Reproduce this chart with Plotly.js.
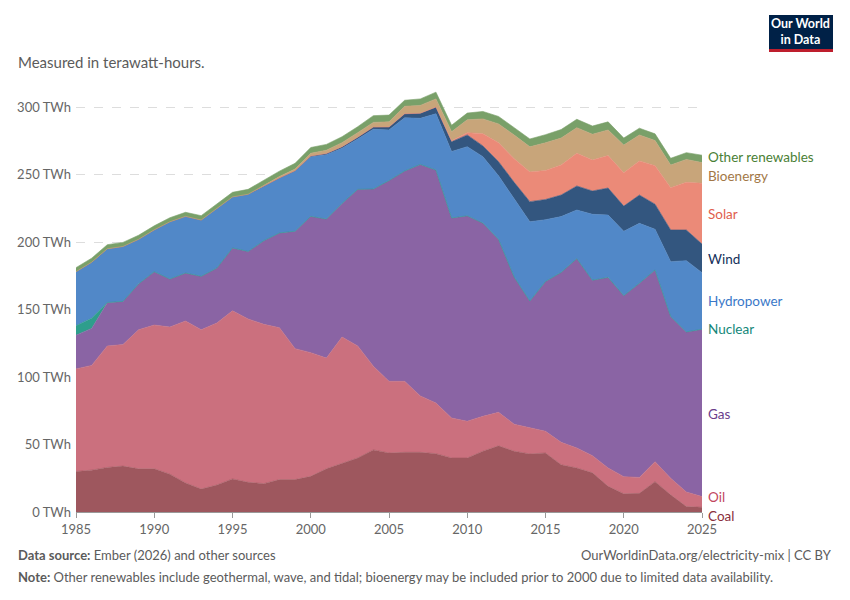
<!DOCTYPE html>
<html>
<head>
<meta charset="utf-8">
<script src="https://cdn.plot.ly/plotly-3.0.1.min.js"></script>
<style>
  html, body { margin: 0; padding: 0; background: #fff; }
  #chart { width: 850px; height: 600px; }
</style>
</head>
<body>
<div id="chart"></div>
<script>
var years = [1985, 1986, 1987, 1988, 1989, 1990, 1991, 1992, 1993, 1994,
    1995, 1996, 1997, 1998, 1999, 2000, 2001, 2002, 2003, 2004,
    2005, 2006, 2007, 2008, 2009, 2010, 2011, 2012, 2013, 2014,
    2015, 2016, 2017, 2018, 2019, 2020, 2021, 2022, 2023, 2024, 2025];

// TWh
var coal = [30, 31, 33, 34, 32, 32, 28, 21.5, 17, 20,
    24.5, 22, 21, 24, 24, 26.4, 32, 36, 40, 46,
    43.7, 44.2, 44.2, 43.2, 40, 40, 45, 49, 45, 43,
    43.7, 35, 32.6, 29, 19, 13.5, 13.8, 22.5, 12.7, 4, 3.5];
var oil = [76, 77.6, 90, 90, 103, 106.5, 109, 120, 118, 120,
    124.5, 121, 118, 112.5, 97, 91.6, 82, 93.6, 83, 62,
    53.1, 52.6, 41.8, 37.5, 29.6, 27.2, 25.9, 24.8, 20, 19.2,
    16.1, 16.6, 14.8, 12.7, 13.6, 12.7, 11.8, 14.8, 12.3, 10.8, 7.9];
var gas = [25, 27.4, 32, 32, 34, 39.5, 35.6, 35.5, 39.6, 40.7,
    46.6, 50, 62, 70.2, 87, 101, 103, 99, 116, 131.3,
    148.7, 155.8, 171.5, 172.6, 148.2, 152.2, 143.1, 128.2, 109, 94.1,
    111, 125.9, 140.3, 130, 141.2, 134.1, 143.9, 142, 119.8, 118.6, 124];
var nuclear = [7, 7.5, 0.2, 0, 0, 0, 0, 0, 0, 0,
    0, 0, 0, 0, 0, 0, 0, 0, 0, 0,
    0, 0, 0, 0, 0, 0, 0, 0, 0, 0,
    0, 0, 0, 0, 0, 0, 0, 0, 0, 0, 0];
var hydro = [40, 41.5, 39.8, 40.7, 33, 31, 42.4, 42, 41.7, 44.1,
    37.8, 42.4, 40.7, 40.8, 44.8, 44.2, 47.7, 40.8, 37.3, 44.2,
    37.5, 39.4, 34.1, 41.7, 49.2, 51.2, 49.2, 47, 58, 58.7,
    45.7, 41.3, 36, 48.8, 46.2, 47.6, 44.3, 30.1, 40.6, 52.8, 41.9];
var wind = [0, 0, 0, 0, 0, 0, 0, 0, 0, 0,
    0, 0, 0, 0, 0, 0.5, 0.8, 1.2, 1.3, 1.6,
    2.2, 3, 3.8, 4.8, 7.3, 8.7, 8, 10.5, 12.2, 14.9,
    15, 16, 17.8, 17.3, 20, 18.7, 21, 18.6, 23.5, 22.7, 21.2];
var solar = [0, 0, 0, 0, 0, 0, 0, 0, 0, 0,
    0, 0, 0, 0, 0, 0, 0, 0, 0, 0,
    0, 0, 0, 0.2, 0.7, 1.7, 9, 14, 17.5, 22,
    21.5, 22.2, 24.2, 22.9, 24, 24.7, 25.2, 28.5, 31.3, 35.3, 45];
var bio = [0, 0, 0, 0, 0, 0, 0, 0, 0, 0,
    0, 0, 0.5, 1, 1.3, 2, 2.5, 3, 3.4, 3.5,
    3.8, 5.5, 5.8, 6, 6.7, 9.5, 11, 14, 17.5, 18.6,
    20.5, 20, 19, 19.1, 19, 20.5, 19.3, 18.6, 16.8, 17, 15.3];
var other = [3, 3, 3, 3, 3, 3, 3, 3, 3.2, 3.2,
    3.4, 3.6, 3.5, 4, 4.2, 4.3, 4.3, 4.4, 4.4, 5,
    5, 4.5, 4.8, 5, 4.8, 5, 5.5, 5.5, 5.5, 5.8,
    6, 6.3, 6.2, 6.1, 6, 5.2, 5, 5, 5, 5, 5.5];

var seriesNames = ["Coal", "Oil", "Gas", "Nuclear", "Hydropower", "Wind", "Solar", "Bioenergy", "Other renewables"];
var seriesValues = [coal, oil, gas, nuclear, hydro, wind, solar, bio, other];
var fillColors = ["#9e575e", "#cb707e", "#8a64a4", "#2e9e8c", "#5188c8", "#33567f", "#eb8a78", "#c8a57a", "#79a069"];
var labelColors = ["#8a2f3b", "#c2475e", "#6a3d8c", "#13877a", "#3a78c8", "#14305a", "#e0604d", "#a27746", "#4a8035"];
// vertical pixel position of each end label
var labelPx = [516, 497, 414, 329, 301, 259, 214, 176, 157];

var yTicks = [0, 50, 100, 150, 200, 250, 300];
var yTickText = ["0 TWh", "50 TWh", "100 TWh", "150 TWh", "200 TWh", "250 TWh", "300 TWh"];
var xTicks = [1985, 1990, 1995, 2000, 2005, 2010, 2015, 2020, 2025];

// plot area in pixels
var L = 76, R = 702, T = 80, B = 512;
function px(x) { return (x - L) / (R - L); }
function py(y) { return (B - y) / (B - T); }

var traces = [];
for (var i = 0; i < seriesNames.length; i++) {
    traces.push({
        x: years,
        y: seriesValues[i],
        name: seriesNames[i],
        type: 'scatter',
        mode: 'lines',
        stackgroup: 'one',
        fillcolor: fillColors[i],
        line: { width: 0.6, color: fillColors[i] },
        hoverinfo: 'skip'
    });
}

var annotations = [];
for (var j = 0; j < seriesNames.length; j++) {
    annotations.push({
        x: px(706), xref: 'paper', xanchor: 'left',
        y: py(labelPx[j]), yref: 'paper', yanchor: 'middle',
        text: seriesNames[j], showarrow: false,
        font: { size: 13.5, color: labelColors[j], family: 'Lato' }
    });
}

var grey = '#5b5b5b';
annotations.push(
    { x: px(16), xref: 'paper', xanchor: 'left', y: py(62), yref: 'paper', yanchor: 'middle',
      text: 'Measured in terawatt-hours.', showarrow: false, font: { size: 15, color: grey, family: 'Lato' } },
    { x: px(16), xref: 'paper', xanchor: 'left', y: py(555), yref: 'paper', yanchor: 'middle',
      text: '<b>Data source:</b> Ember (2026) and other sources', showarrow: false, font: { size: 13, color: grey, family: 'Lato' } },
    { x: px(834), xref: 'paper', xanchor: 'right', y: py(555), yref: 'paper', yanchor: 'middle',
      text: 'OurWorldinData.org/electricity-mix | CC BY', showarrow: false, font: { size: 13, color: grey, family: 'Lato' } },
    { x: px(16), xref: 'paper', xanchor: 'left', y: py(577), yref: 'paper', yanchor: 'middle',
      text: '<b>Note:</b> Other renewables include geothermal, wave, and tidal; bioenergy may be included prior to 2000 due to limited data availability.',
      showarrow: false, font: { size: 13, color: grey, family: 'Lato' } },
    { x: px(801), xref: 'paper', xanchor: 'center', y: py(32), yref: 'paper', yanchor: 'middle',
      text: '<b>Our World<br>in Data</b>', showarrow: false, font: { size: 12.5, color: '#ffffff', family: 'Lato' } }
);

var layout = {
    width: 850,
    height: 600,
    margin: { l: L, r: 850 - R, t: T, b: 600 - B },
    paper_bgcolor: '#ffffff',
    plot_bgcolor: '#ffffff',
    showlegend: false,
    font: { family: 'Lato, "Open Sans", sans-serif', color: '#666' },
    xaxis: {
        range: [1985, 2025],
        tickvals: xTicks,
        ticks: 'outside', ticklen: 5, tickcolor: '#999',
        showline: true, linecolor: '#999', linewidth: 1,
        showgrid: false, zeroline: false,
        tickfont: { size: 13, color: '#666' }
    },
    yaxis: {
        range: [0, 320],
        tickvals: yTicks,
        ticktext: yTickText,
        showgrid: true, gridcolor: '#dddddd', griddash: 'dash',
        zeroline: false, showline: false,
        ticks: '', ticklabelstandoff: 4,
        automargin: false,
        tickfont: { size: 13, color: '#666' }
    },
    shapes: [
        { type: 'rect', xref: 'paper', yref: 'paper', x0: px(769), x1: px(833), y0: py(49), y1: py(15),
          fillcolor: '#002147', line: { width: 0 } },
        { type: 'rect', xref: 'paper', yref: 'paper', x0: px(769), x1: px(833), y0: py(52), y1: py(49),
          fillcolor: '#be1e2d', line: { width: 0 } }
    ],
    annotations: annotations
};

var config = { staticPlot: true, displaylogo: false };

Plotly.newPlot('chart', traces, layout, config);
</script>
</body>
</html>
